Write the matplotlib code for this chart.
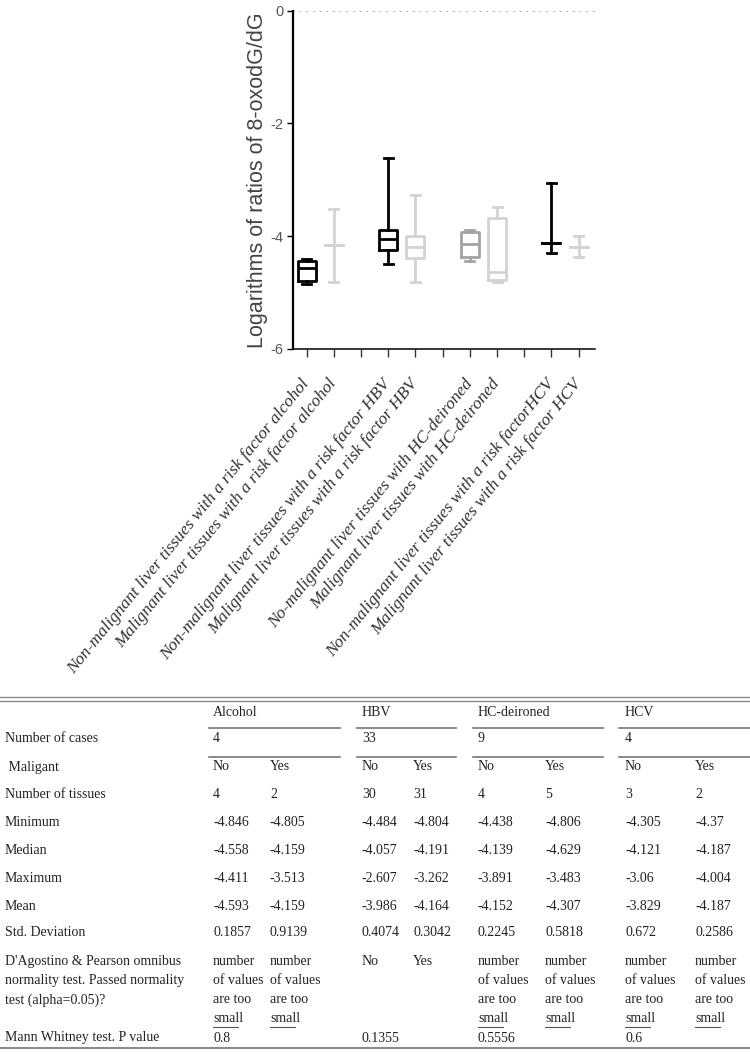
import numpy as np
import matplotlib
matplotlib.use("Agg")
import matplotlib.pyplot as plt

plt.rcParams['axes.unicode_minus'] = False

# box plot groups (x positions 3, 6, 9 are left empty)
positions = [1, 2, 4, 5, 7, 8, 10, 11]
labels = ["Non-malignant liver tissues with a risk factor alcohol",
          "Malignant liver tissues with a risk factor alcohol",
          "Non-malignant liver tissues with a risk factor HBV",
          "Malignant liver tissues with a risk factor HBV",
          "No-malignant liver tissues with HC-deironed",
          "Malignant liver tissues with HC-deironed",
          "Non-malignant liver tissues with a risk factorHCV",
          "Malignant liver tissues with a risk factor HCV"]
box_colors = ['black', '#d3d3d3', 'black', '#d3d3d3',
              '#a3a3a3', '#d3d3d3', 'black', '#d3d3d3']

# table values
groups = ["Alcohol", "HBV", "HC-deironed", "HCV"]
n_cases = ["4", "33", "9", "4"]
malignant = ["No", "Yes", "No", "Yes", "No", "Yes", "No", "Yes"]
n_tissues = [4, 2, 30, 31, 4, 5, 3, 2]
minimum = [-4.846, -4.805, -4.484, -4.804, -4.438, -4.806, -4.305, -4.37]
median = [-4.558, -4.159, -4.057, -4.191, -4.139, -4.629, -4.121, -4.187]
maximum = [-4.411, -3.513, -2.607, -3.262, -3.891, -3.483, -3.06, -4.004]
mean = [-4.593, -4.159, -3.986, -4.164, -4.152, -4.307, -3.829, -4.187]
std_dev = [0.1857, 0.9139, 0.4074, 0.3042, 0.2245, 0.5818, 0.672, 0.2586]
small_txt = "number\nof values\nare too\nsmall"
normality = [small_txt, small_txt, "No", "Yes", small_txt, small_txt, small_txt, small_txt]
mann_whitney = ["0.8", "", "0.1355", "", "0.5556", "", "0.6", ""]

# quartiles read off the boxes (no box drawn for groups 2, 7, 8)
q1 = [-4.80, -4.159, -4.24, -4.39, -4.37, -4.77, -4.121, -4.187]
q3 = [-4.44, -4.159, -3.89, -3.99, -3.92, -3.68, -4.121, -4.187]

fig = plt.figure(figsize=(7.5, 10.59), dpi=100)
W, H = 750, 1059

"""
Box plot
"""
ax = fig.add_axes([293 / W, 1 - 349 / H, 302 / W, (349 - 10.7) / H])

for i in range(len(positions)):
    st = [{'med': median[i], 'q1': q1[i], 'q3': q3[i],
           'whislo': minimum[i], 'whishi': maximum[i], 'fliers': []}]
    c = box_colors[i]
    lp = dict(color=c, linewidth=2)
    ax.bxp(st, positions=[positions[i]], widths=0.66, showfliers=False,
           boxprops=lp, whiskerprops=lp, capprops=lp, medianprops=lp,
           manage_ticks=False)

ax.axhline(0, color='#999999', linestyle=(0, (1, 3)), linewidth=1.2, zorder=0)
ax.set_xlim(0.5, 11.6)
ax.set_ylim(-6, 0)
ax.set_yticks([0, -2, -4, -6])
ax.set_yticklabels(["0", "-2", "-4", "-6"])
ax.set_xticks(range(1, 12))
xl = []
for p in range(1, 12):
    xl.append(labels[positions.index(p)] if p in positions else "")
ax.set_xticklabels(xl, rotation=51, ha='right', va='center', rotation_mode='anchor',
                   family='Liberation Serif', style='italic', fontsize=12.6, color='#333333')
ax.tick_params(axis='x', length=6, width=1, pad=17, color='#333333')
ax.tick_params(axis='y', length=4, width=1, pad=3, labelsize=10.5, labelcolor='#555555')
for t in ax.get_yticklabels():
    t.set_family('Liberation Sans')
ax.spines['top'].set_visible(False)
ax.spines['right'].set_visible(False)
ax.spines['left'].set_linewidth(1.6)
ax.spines['bottom'].set_linewidth(1.1)
ax.set_ylabel("Logarithms of ratios of 8-oxodG/dG", family='Liberation Sans',
              fontsize=15.5, color='#444444', labelpad=2)

"""
Table under the chart, drawn in pixel coordinates
"""
tx = fig.add_axes([0, 0, 1, 1])
tx.set_xlim(0, W)
tx.set_ylim(H, 0)
tx.axis('off')

tfont = dict(family='Liberation Serif', fontsize=10, color='#222222', va='center')
col_x = [213, 270, 362, 413, 478, 545, 625, 695]
grp_x = [(209, 340), (357, 456), (473, 603), (619, 750)]

tx.plot([0, W], [697, 697], color='#888888', lw=1)
tx.plot([0, W], [700.5, 700.5], color='#888888', lw=1)
tx.plot([0, W], [1048, 1048], color='#888888', lw=1.4)
for g in range(4):
    tx.text(col_x[2 * g], 712, groups[g], **tfont)
    tx.text(col_x[2 * g], 739, n_cases[g], **tfont)
    tx.plot(grp_x[g], [728, 728], color='#777777', lw=1.2)
    tx.plot(grp_x[g], [757, 757], color='#777777', lw=1.2)

row_names = ["Number of cases", " Maligant", "Number of tissues", "Minimum", "Median",
             "Maximum", "Mean", "Std. Deviation"]
row_y = [739, 767, 795, 823, 851, 878, 906, 933]
for name, y in zip(row_names, row_y):
    tx.text(5, y, name, **tfont)

rows = [malignant, n_tissues, minimum, median, maximum, mean, std_dev]
for vals, y in zip(rows, row_y[1:]):
    for j in range(8):
        tx.text(col_x[j], y, str(vals[j]), **tfont)

tf2 = dict(tfont)
tf2['va'] = 'top'
tx.text(5, 955, "D'Agostino & Pearson omnibus\nnormality test. Passed normality\ntest (alpha=0.05)?",
        linespacing=1.6, **tf2)
for j in range(8):
    tx.text(col_x[j], 955, normality[j], linespacing=1.6, **tf2)
    if normality[j] == small_txt:
        tx.plot([col_x[j], col_x[j] + 25], [1027, 1027], color='#555555', lw=0.8)

tx.text(5, 1038, "Mann Whitney test. P value", **tfont)
for j in range(8):
    tx.text(col_x[j], 1038, mann_whitney[j], **tfont)

fig.savefig("out.png", dpi=100)
